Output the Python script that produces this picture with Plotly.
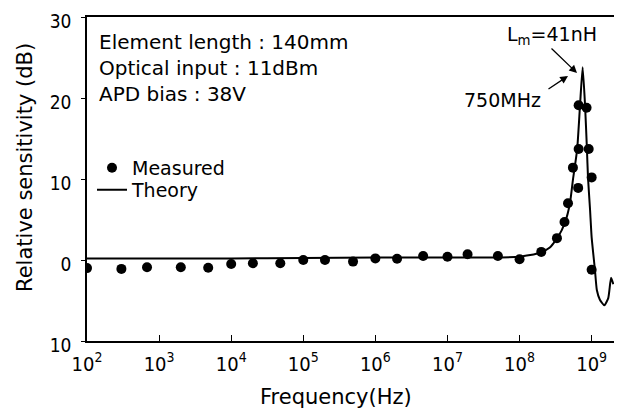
import plotly.graph_objects as go

# ---- data ----
measured_freq_hz = [1e2, 3.0e2, 6.8e2, 2.0e3, 4.8e3, 1.0e4, 2.0e4, 4.8e4, 1.0e5, 2.0e5,
                    4.9e5, 1.0e6, 2.0e6, 4.6e6, 1.0e7, 1.9e7, 5.0e7, 1.0e8, 2.0e8, 3.3e8,
                    4.2e8, 4.7e8, 5.5e8, 6.5e8, 6.6e8, 9.1e8, 6.6e8, 8.5e8, 1.0e9, 1.0e9]
measured_db = [-1.0, -1.1, -0.9, -0.9, -0.95, -0.5, -0.4, -0.4, 0.0, 0.0,
               -0.2, 0.2, 0.15, 0.5, 0.4, 0.7, 0.5, 0.1, 1.0, 2.7,
               4.7, 7.0, 11.4, 8.9, 13.7, 13.7, 19.1, 18.8, 10.2, -1.2]

theory_freq_hz = [1e2, 1e3, 1e4, 1e5, 1e6, 1e7, 1e8, 1.9e8, 2.6e8, 3.4e8,
                  4.3e8, 5.0e8, 5.5e8, 6.3e8, 6.9e8, 7.5e8, 8.1e8, 8.6e8, 8.9e8, 9.5e8,
                  1.0e9, 1.11e9, 1.18e9, 1.3e9, 1.5e9, 1.7e9, 1.86e9, 2.0e9]
theory_db = [0.2, 0.2, 0.2, 0.25, 0.3, 0.3, 0.4, 0.86, 1.5, 2.8,
             4.7, 7.0, 9.9, 13.7, 19.1, 23.8, 19.1, 13.7, 10.2, 6.2,
             2.8, -1.2, -3.7, -4.9, -5.6, -4.7, -2.2, -3.0]

x_tick_vals = [1e2, 1e3, 1e4, 1e5, 1e6, 1e7, 1e8, 1e9]
x_tick_text = ["10<sup>2</sup>", "10<sup>3</sup>", "10<sup>4</sup>", "10<sup>5</sup>",
               "10<sup>6</sup>", "10<sup>7</sup>", "10<sup>8</sup>", "10<sup>9</sup>"]
y_tick_vals = [-10, 0, 10, 20, 30]
y_tick_text = ["10", "0", "10", "20", "30"]

FONT = "DejaVu Sans, Liberation Sans, sans-serif"
NUMFONT = "DejaVu Sans Condensed, Liberation Sans Narrow, Liberation Sans, sans-serif"

fig = go.Figure()
fig.add_trace(go.Scatter(x=measured_freq_hz, y=measured_db, mode="markers", name="Measured",
                         marker=dict(color="black", size=10, symbol="circle"), legend="legend"))
fig.add_trace(go.Scatter(x=theory_freq_hz, y=theory_db, mode="lines", name="Theory",
                         line=dict(color="black", width=2, shape="spline", smoothing=0.5),
                         legend="legend2"))

legend_style = dict(xanchor="left", yanchor="top", bgcolor="rgba(0,0,0,0)",
                    font=dict(family=FONT, size=19, color="black"), itemwidth=30)

# page body has an 8px margin, so the figure is 8px smaller and shifted
fig.update_layout(
    width=614, height=409,
    margin=dict(l=79, r=8, t=9, b=76, autoexpand=False),
    paper_bgcolor="white", plot_bgcolor="white",
    font=dict(family=FONT, size=19, color="black"),
    showlegend=True,
    legend=dict(x=0.0095, y=0.593, **legend_style),
    legend2=dict(x=0.0095, y=0.525, **legend_style),
)
fig.update_xaxes(type="log", range=[2, 9.31], tickvals=x_tick_vals, ticktext=x_tick_text,
                 ticks="inside", ticklen=6, tickwidth=1.2, tickcolor="black",
                 showline=True, mirror=True, linecolor="black", linewidth=1.5,
                 showgrid=False, zeroline=False, ticklabelstandoff=4, automargin=False,
                 tickfont=dict(family=NUMFONT, size=20, color="black"))
fig.update_yaxes(range=[-10, 30], tickvals=y_tick_vals, ticktext=y_tick_text,
                 ticks="outside", ticklen=4, tickwidth=1.2, tickcolor="black",
                 showline=True, mirror=True, linecolor="black", linewidth=1.5,
                 showgrid=False, zeroline=False, ticklabelstandoff=6, ticklabelshift=4,
                 automargin=False,
                 tickfont=dict(family=NUMFONT, size=19, color="black"))

ann = []
ann.append(dict(text="Frequency(Hz)", xref="paper", yref="paper", x=0.4725, y=-0.173,
                xanchor="center", yanchor="middle", showarrow=False, font=dict(size=21)))
ann.append(dict(text="Relative sensitivity (dB)", xref="paper", yref="paper", x=-0.119, y=0.535,
                xanchor="center", yanchor="middle", textangle=-90, showarrow=False, font=dict(size=21)))
ann.append(dict(text="Element length : 140mm<br>Optical input : 11dBm<br>APD bias : 38V",
                xref="paper", yref="paper", x=0.019, y=0.966, xanchor="left", yanchor="top",
                align="left", showarrow=False, font=dict(size=20)))
ann.append(dict(text="L<sub>m</sub>=41nH", xref="paper", yref="paper", x=0.882, y=0.944,
                xanchor="center", yanchor="middle", showarrow=False, font=dict(size=19)))
ann.append(dict(text="750MHz", xref="paper", yref="paper", x=0.789, y=0.744,
                xanchor="center", yanchor="middle", showarrow=False, font=dict(size=19)))
ann.append(dict(text="", xref="paper", yref="paper", x=0.9298, y=0.827, ax=-27, ay=-26,
                showarrow=True, arrowhead=2, arrowsize=1.2, arrowwidth=1.3, arrowcolor="black"))
ann.append(dict(text="", xref="paper", yref="paper", x=0.9127, y=0.818, ax=-21, ay=14,
                showarrow=True, arrowhead=2, arrowsize=1.2, arrowwidth=1.3, arrowcolor="black"))
fig.update_layout(annotations=ann)

fig.write_html("out.html")
